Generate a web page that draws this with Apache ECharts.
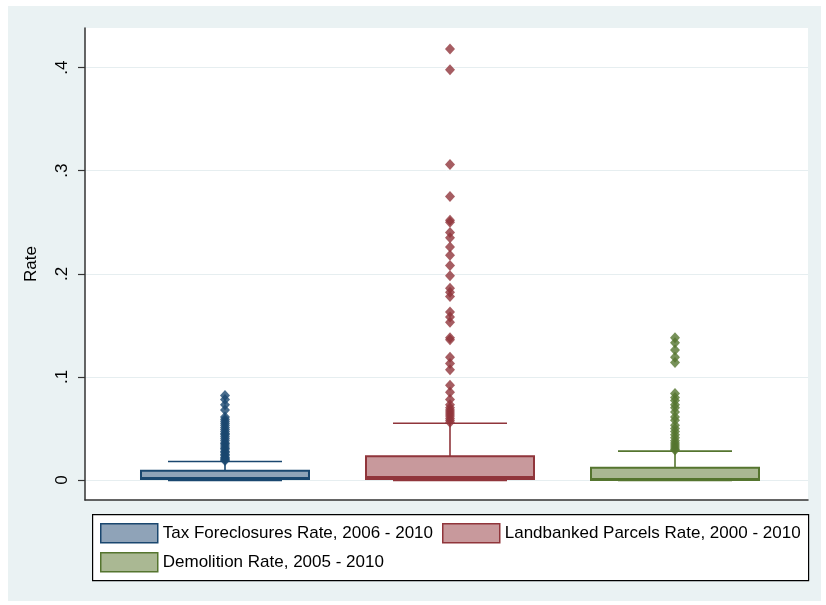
<!DOCTYPE html>
<html>
<head>
<meta charset="utf-8">
<script src="https://cdn.jsdelivr.net/npm/echarts@6/dist/echarts.min.js"></script>
<style>
  html, body { margin: 0; padding: 0; background: #fff; }
  #chart { width: 826px; height: 605px; }
</style>
</head>
<body>
<div id="chart"></div>
<script>
// Series names (legend order)
const seriesNames = [
  'Tax Foreclosures Rate, 2006 - 2010',
  'Landbanked Parcels Rate, 2000 - 2010',
  'Demolition Rate, 2005 - 2010'
];

// Box summaries: [lower adjacent, p25, median, p75, upper adjacent]
const taxBox = [0, 0.001, 0.002, 0.009, 0.018];
const landBox = [0, 0.001, 0.003, 0.023, 0.055];
const demoBox = [0, 0, 0.001, 0.012, 0.028];

// Outside values
const taxOutliers = [0.082, 0.078, 0.073, 0.068, 0.061, 0.059, 0.057, 0.055, 0.053, 0.051,
  0.049, 0.047, 0.045, 0.044, 0.042, 0.040, 0.038, 0.036, 0.035, 0.033, 0.031, 0.030,
  0.028, 0.027, 0.025, 0.024, 0.022, 0.021, 0.020, 0.019];
const landOutliers = [0.418, 0.398, 0.306, 0.275, 0.252, 0.250, 0.240, 0.235, 0.226, 0.218,
  0.208, 0.198, 0.186, 0.182, 0.178, 0.163, 0.158, 0.153, 0.138, 0.136, 0.119, 0.113,
  0.107, 0.092, 0.085, 0.078, 0.073, 0.070, 0.068, 0.066, 0.064, 0.062, 0.060, 0.058, 0.056];
const demoOutliers = [0.138, 0.133, 0.126, 0.119, 0.114, 0.084, 0.080, 0.077, 0.073, 0.070,
  0.066, 0.061, 0.058, 0.053, 0.050, 0.047, 0.044, 0.041, 0.038, 0.036, 0.034, 0.032,
  0.030, 0.029];

// Y axis tick labels
const yTickValues = [0, 0.1, 0.2, 0.3, 0.4];
const yTickLabels = ['0', '.1', '.2', '.3', '.4'];

// Styling
const lineColors = ['#1a476f', '#90353b', '#55752f'];
const fillColors = ['#8fa3b8', '#c8999c', '#aab893'];
const FONT = 'Liberation Sans, Arial, sans-serif';
const FONT_SIZE = 17;

const boxes = [taxBox, landBox, demoBox];
const outliers = [taxOutliers, landOutliers, demoOutliers];

const BOX_HALF = 84;  // px
const CAP_HALF = 57;  // px

function makeBoxRender(idx) {
  return function (params, api) {
    const g = api.value(0);
    const lo = api.value(1), q1 = api.value(2), med = api.value(3), q3 = api.value(4), hi = api.value(5);
    const pLo = api.coord([g, lo]);
    const pQ1 = api.coord([g, q1]);
    const pMed = api.coord([g, med]);
    const pQ3 = api.coord([g, q3]);
    const pHi = api.coord([g, hi]);
    const cx = pQ1[0];
    const stroke = lineColors[idx];
    const lw = 1.6;
    return {
      type: 'group',
      children: [
        // whisker stems
        { type: 'line', shape: { x1: cx, y1: pQ3[1], x2: cx, y2: pHi[1] }, style: { stroke, lineWidth: lw } },
        { type: 'line', shape: { x1: cx, y1: pQ1[1], x2: cx, y2: pLo[1] }, style: { stroke, lineWidth: lw } },
        // box
        { type: 'rect', shape: { x: cx - BOX_HALF, y: pQ3[1], width: BOX_HALF * 2, height: pQ1[1] - pQ3[1] },
          style: { fill: fillColors[idx], stroke, lineWidth: 2 } },
        // median
        { type: 'line', shape: { x1: cx - BOX_HALF, y1: pMed[1], x2: cx + BOX_HALF, y2: pMed[1] }, style: { stroke, lineWidth: 2 } },
        // caps
        { type: 'line', shape: { x1: cx - CAP_HALF, y1: pHi[1], x2: cx + CAP_HALF, y2: pHi[1] }, style: { stroke, lineWidth: lw } },
        { type: 'line', shape: { x1: cx - CAP_HALF, y1: pLo[1], x2: cx + CAP_HALF, y2: pLo[1] }, style: { stroke, lineWidth: 2.5 } }
      ]
    };
  };
}

const series = [];
seriesNames.forEach(function (name, i) {
  series.push({
    name: name,
    type: 'custom',
    renderItem: makeBoxRender(i),
    encode: { x: 0, y: [1, 2, 3, 4, 5] },
    data: [[i + 1].concat(boxes[i])],
    itemStyle: { color: fillColors[i], borderColor: lineColors[i] },
    z: 2,
    silent: true
  });
  series.push({
    name: name,
    type: 'scatter',
    symbol: 'diamond',
    symbolSize: [10, 11],
    itemStyle: { color: lineColors[i] },
    data: outliers[i].map(function (v) { return [i + 1, v]; }),
    z: 3,
    silent: true
  });
});

function legendItem(i) {
  return { name: seriesNames[i], icon: 'rect', itemStyle: { color: fillColors[i], borderColor: lineColors[i], borderWidth: 1.5 } };
}
const legendBase = {
  padding: 0,
  itemWidth: 57, itemHeight: 19,
  itemGap: 9,
  icon: 'rect',
  selectedMode: false,
  textStyle: { fontSize: FONT_SIZE, color: '#000', fontFamily: FONT }
};

const chart = echarts.init(document.getElementById('chart'), null, { renderer: 'canvas' });
chart.setOption({
  animation: false,
  backgroundColor: '#ffffff',
  textStyle: { fontFamily: FONT },
  graphic: [
    { type: 'rect', left: 8, top: 6, shape: { width: 813, height: 595 }, style: { fill: '#eaf2f3' }, z: -10, silent: true },
    { type: 'rect', left: 92, top: 514, shape: { width: 716, height: 66 }, style: { fill: '#ffffff', stroke: '#000000', lineWidth: 1.2 }, z: 0, silent: true }
  ],
  grid: {
    left: 85, top: 28, right: 18, bottom: 105,
    show: true, backgroundColor: '#ffffff', borderWidth: 0
  },
  xAxis: {
    type: 'value',
    min: 0.3778, max: 3.5911,
    axisLine: { show: true, onZero: false, lineStyle: { color: '#333333', width: 1.5 } },
    axisTick: { show: false },
    axisLabel: { show: false },
    splitLine: { show: false }
  },
  yAxis: {
    type: 'value',
    min: -0.0194, max: 0.4384,
    name: 'Rate',
    nameLocation: 'middle',
    nameGap: 45,
    nameRotate: 90,
    nameTextStyle: { fontSize: FONT_SIZE, color: '#000', fontFamily: FONT },
    axisLine: { show: true, onZero: false, lineStyle: { color: '#333333', width: 1.5 } },
    axisTick: { show: true, length: 7, customValues: yTickValues, lineStyle: { color: '#333333', width: 1.2 } },
    axisLabel: {
      customValues: yTickValues,
      rotate: 90,
      margin: 14,
      fontSize: FONT_SIZE,
      color: '#000',
      fontFamily: FONT,
      formatter: function (v) {
        const k = yTickValues.findIndex(function (t) { return Math.abs(t - v) < 1e-9; });
        return k >= 0 ? yTickLabels[k] : '';
      }
    },
    splitLine: { show: true, lineStyle: { color: '#e6eef0', width: 1 } }
  },
  legend: [
    Object.assign({}, legendBase, { left: 100, top: 523, data: [legendItem(0), legendItem(1)] }),
    Object.assign({}, legendBase, { left: 100, top: 552, data: [legendItem(2)] })
  ],
  series: series
});
</script>
</body>
</html>
